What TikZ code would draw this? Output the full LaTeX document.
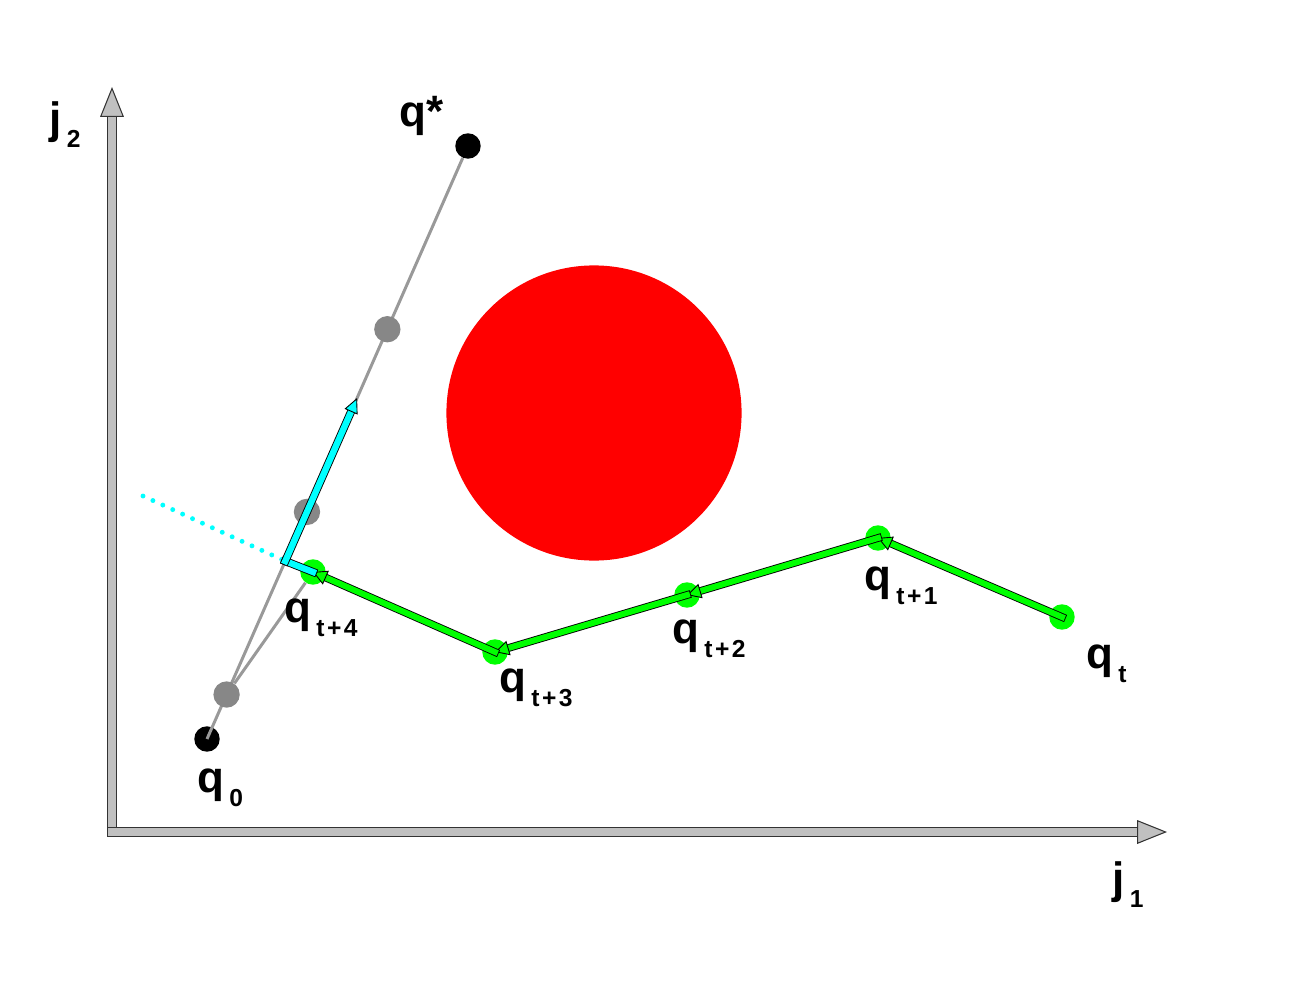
\documentclass[tikz,border=0pt]{standalone}
\usepackage{fontspec}
\setmainfont{Liberation Sans}
\usetikzlibrary{arrows.meta, calc}

\definecolor{aqua}{RGB}{0,255,255}
\definecolor{lime}{RGB}{0,255,0}
\definecolor{axisgray}{RGB}{192,192,192}

\newcommand{\qlab}[2]{#1\kern3pt\raisebox{-8.5pt}{\fontsize{14}{16}\selectfont\bfseries\addfontfeature{LetterSpace=10}#2}}

\begin{document}
\begin{tikzpicture}[x=0.02cm, y=-0.02cm,
    dot/.style={shape=circle, inner sep=0pt, minimum size=14.5pt},
    enddot/.style={dot, fill=black},
    waydot/.style={dot, fill=black!47, minimum size=15pt},
    stepdot/.style={dot, fill=lime},
    obstacle/.style={shape=circle, fill=red, inner sep=0pt, minimum size=168pt},
    lab/.style={anchor=base west, inner sep=0pt, font=\fontsize{25}{30}\selectfont\bfseries},
    track/.style={draw=black!40, line width=1.7pt},
    axis/.style={draw=black!80, line width=0.6pt, double=axisgray, double distance=5pt, line cap=rect,
        -{Triangle[length=17pt, width=13.5pt, fill=axisgray, line width=0.6pt]}},
    flow/.style={draw=black, line width=0.5pt, double=lime, double distance=3.4pt, line cap=rect,
        -{Triangle[length=8pt, width=8.5pt, fill=lime, line width=0.5pt]}},
    pushbar/.style={draw=black, line width=0.5pt, double=aqua, double distance=3.6pt, line cap=rect},
    push/.style={pushbar, -{Triangle[length=8.5pt, width=8pt, fill=aqua, line width=0.5pt]}},
    reach/.style={draw=aqua, line width=2.8pt, line cap=round, dash pattern=on 0pt off 6.2pt},
]
\useasboundingbox (0,0) rectangle (1299,1004);

% axes
\coordinate (O) at (112,832);
\coordinate (ytip) at (112,87);
\coordinate (xtip) at (1167,832);
\draw[axis] (O) -- (ytip);
\draw[axis] (O) -- (xtip);
\node[lab] (lj2) at (49,133) {\qlab{j}{2}};
\node[lab] (lj1) at (1112,893) {\qlab{j}{1}};

% obstacle
\node[obstacle] (obst) at (594,413) {};

% straight path q0 -> q*
\node[enddot] (q0) at (207,739) {};
\node[enddot] (qs) at (468,146) {};
\draw[track] (q0.center) -- (qs);
\node[waydot] (g1) at ($(q0)!0.075!(qs)$) {};
\node[waydot] (g2) at ($(q0)!0.383!(qs)$) {};
\node[waydot] (g3) at ($(q0)!0.691!(qs)$) {};

% executed steps
\node[stepdot] (qt) at (1062,617) {};
\node[stepdot] (qt1) at (878,538) {};
\node[stepdot] (qt2) at (687,595) {};
\node[stepdot] (qt3) at (495,652) {};
\node[stepdot] (qt4) at (313,572) {};
\draw[track] (g1) -- (qt4);

\foreach \a/\b in {qt/qt1, qt1/qt2, qt2/qt3, qt3/qt4}
    \draw[flow] (\a.center) -- (\b.center);

% projection onto the path
\coordinate (proj) at ($(q0)!0.3!(qs)$);
\coordinate (ahead) at ($(q0)!0.575!(qs)$);
\coordinate (far) at (143,496);
\draw[reach] (far) -- (proj);
\draw[pushbar] (qt4.center) -- (proj);
\draw[push] (proj) -- (ahead);

% labels
\node[lab] (lq0) at (197,792) {\qlab{q}{0}};
\node[lab] (lqs) at (399,126) {q*};
\node[lab] (lqt) at (1086,668) {\qlab{q}{t}};
\node[lab] (lqt1) at (864,590) {\qlab{q}{t+1}};
\node[lab] (lqt2) at (672,643) {\qlab{q}{t+2}};
\node[lab] (lqt3) at (499,692) {\qlab{q}{t+3}};
\node[lab] (lqt4) at (284,622) {\qlab{q}{t+4}};
\end{tikzpicture}
\end{document}
